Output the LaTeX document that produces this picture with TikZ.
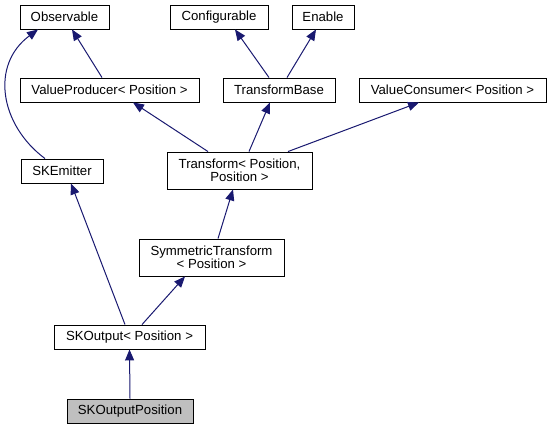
\documentclass[tikz,border=0pt]{standalone}
\usepackage{fontspec}
\setmainfont{Liberation Sans}
\usetikzlibrary{arrows.meta}
\definecolor{edgeblue}{HTML}{191970}
\definecolor{leafgray}{HTML}{BFBFBF}
\tikzset{
  box/.style={draw=black, line width=0.9pt, fill=white, rectangle, inner sep=0pt, align=center,
    font=\fontsize{13.2}{13.5}\selectfont},
  edge/.style={draw=edgeblue, line width=1pt, -{Triangle[length=11pt,width=9pt,fill=edgeblue]}},
}
\begin{document}
\begin{tikzpicture}[x=1pt,y=-1pt]
\useasboundingbox (0,0) rectangle (551,429);
\node[box, minimum width=89pt, minimum height=24pt] (obs) at (64.5,17) {Observable};
\node[box, minimum width=98pt, minimum height=24pt] (conf) at (219,17) {Configurable};
\node[box, minimum width=62pt, minimum height=24pt] (en) at (323,17) {Enable};
\node[box, minimum width=179pt, minimum height=24pt] (vp) at (109.5,90) {ValueProducer< Position >};
\node[box, minimum width=112pt, minimum height=24pt] (tb) at (279,90) {TransformBase};
\node[box, minimum width=187pt, minimum height=24pt] (vc) at (452.5,90) {ValueConsumer< Position >};
\node[box, minimum width=82pt, minimum height=24pt] (ske) at (62,171) {SKEmitter};
\node[box, minimum width=145pt, minimum height=37pt] (tr) at (239.5,170.5) {Transform< Position,\\Position >};
\node[box, minimum width=145pt, minimum height=37pt] (st) at (211.5,257.5) {SymmetricTransform\\< Position >};
\node[box, minimum width=151pt, minimum height=24pt] (sko) at (129.5,337) {SKOutput< Position >};
\node[box, fill=leafgray, minimum width=126pt, minimum height=24pt] (skop) at (130,411) {SKOutputPosition};

\draw[edge] ([xshift=-7.5pt]vp.north) -- ([xshift=7.5pt]obs.south);
\draw[edge] ([xshift=-17pt]ske.north) .. controls (0,125) and (-10,65) .. ([xshift=-26.5pt]obs.south);
\draw[edge] ([xshift=-10pt]tb.north) -- ([xshift=16pt]conf.south);
\draw[edge] ([xshift=8pt]tb.north) -- ([xshift=-7pt]en.south);
\draw[edge] ([xshift=-31.5pt]tr.north) -- ([xshift=23.5pt]vp.south);
\draw[edge] ([xshift=9.5pt]tr.north) -- ([xshift=-9pt]tb.south);
\draw[edge] ([xshift=48.5pt]tr.north) -- ([xshift=-33.5pt]vc.south);
\draw[edge] ([xshift=6.5pt]st.north) -- ([xshift=-6.5pt]tr.south);
\draw[edge] ([xshift=-4.5pt]sko.north) -- ([xshift=9pt]ske.south);
\draw[edge] ([xshift=12.5pt]sko.north) -- ([xshift=-26.5pt]st.south);
\draw[edge] (skop.north) -- (sko.south);
\end{tikzpicture}
\end{document}
